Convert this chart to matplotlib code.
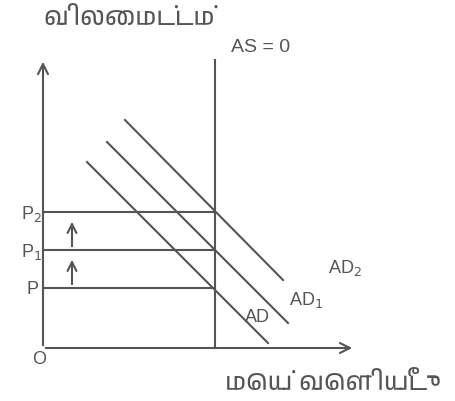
import matplotlib
matplotlib.use("Agg")
import matplotlib.pyplot as plt

# price levels on the y axis
level_labels = ["P", "P$_1$", "P$_2$"]
price_levels = [60, 98, 136]

# AD curves (start / end points in output, price units)
ad_labels = ["AD", "AD$_1$", "AD$_2$"]
ad_x0 = [44, 64, 82]
ad_y0 = [186, 206, 228]
ad_x1 = [225, 245, 240]
ad_y1 = [5, 25, 68]

as_output = 172       # vertical AS line
y_label = "விலைமட்டம்"
x_label = "மெய் வெளியீடு"

tamil = ["Anek Tamil", "Noto Sans", "DejaVu Sans"]
col = "#555555"

fig = plt.figure(figsize=(4.55, 4.01), dpi=100)
ax = fig.add_axes([0, 0, 1, 1])
ax.set_xlim(-43, 412)
ax.set_ylim(-53, 348)
ax.axis("off")

# axes with arrows
ax.annotate("", xy=(0, 289), xytext=(0, 0),
            arrowprops=dict(arrowstyle="->", color=col, lw=1.5, mutation_scale=18))
ax.annotate("", xy=(312, 0), xytext=(0, 0),
            arrowprops=dict(arrowstyle="->", color=col, lw=1.5, mutation_scale=18))

# AS line
ax.plot([as_output, as_output], [0, 288], color=col, lw=1.5)

# price level lines
for p in price_levels:
    ax.plot([0, as_output], [p, p], color=col, lw=1.5)

# AD lines
for x0, y0, x1, y1 in zip(ad_x0, ad_y0, ad_x1, ad_y1):
    ax.plot([x0, x1], [y0, y1], color=col, lw=1.5)

# small arrows between levels
for lo, hi in zip(price_levels[:-1], price_levels[1:]):
    ax.annotate("", xy=(29, hi - 7), xytext=(29, lo + 1),
                arrowprops=dict(arrowstyle="->", color=col, lw=1.5, mutation_scale=16))

txt = dict(color=col, family="Liberation Sans", fontsize=13)
for lab, p, dx in zip(level_labels, price_levels, [-16, -22, -22]):
    ax.text(dx, p - 2, lab, ha="left", va="center", **txt)
ax.text(-11, -12, "O", ha="left", va="center", **txt)
ax.text(188, 301, "AS = 0", ha="left", va="center", color=col,
        family="Liberation Sans", fontsize=14)

ax.text(202, 30, ad_labels[0], ha="left", va="center", **txt)
ax.text(246, 48, ad_labels[1], ha="left", va="center", **txt)
ax.text(285, 80, ad_labels[2], ha="left", va="center", **txt)

ax.text(0, 330, y_label, ha="left", va="center", color=col, fontsize=18, family=tamil)
ax.text(182, -35, x_label, ha="left", va="center", color=col, fontsize=18, family=tamil)

fig.savefig("out.png", dpi=100)
